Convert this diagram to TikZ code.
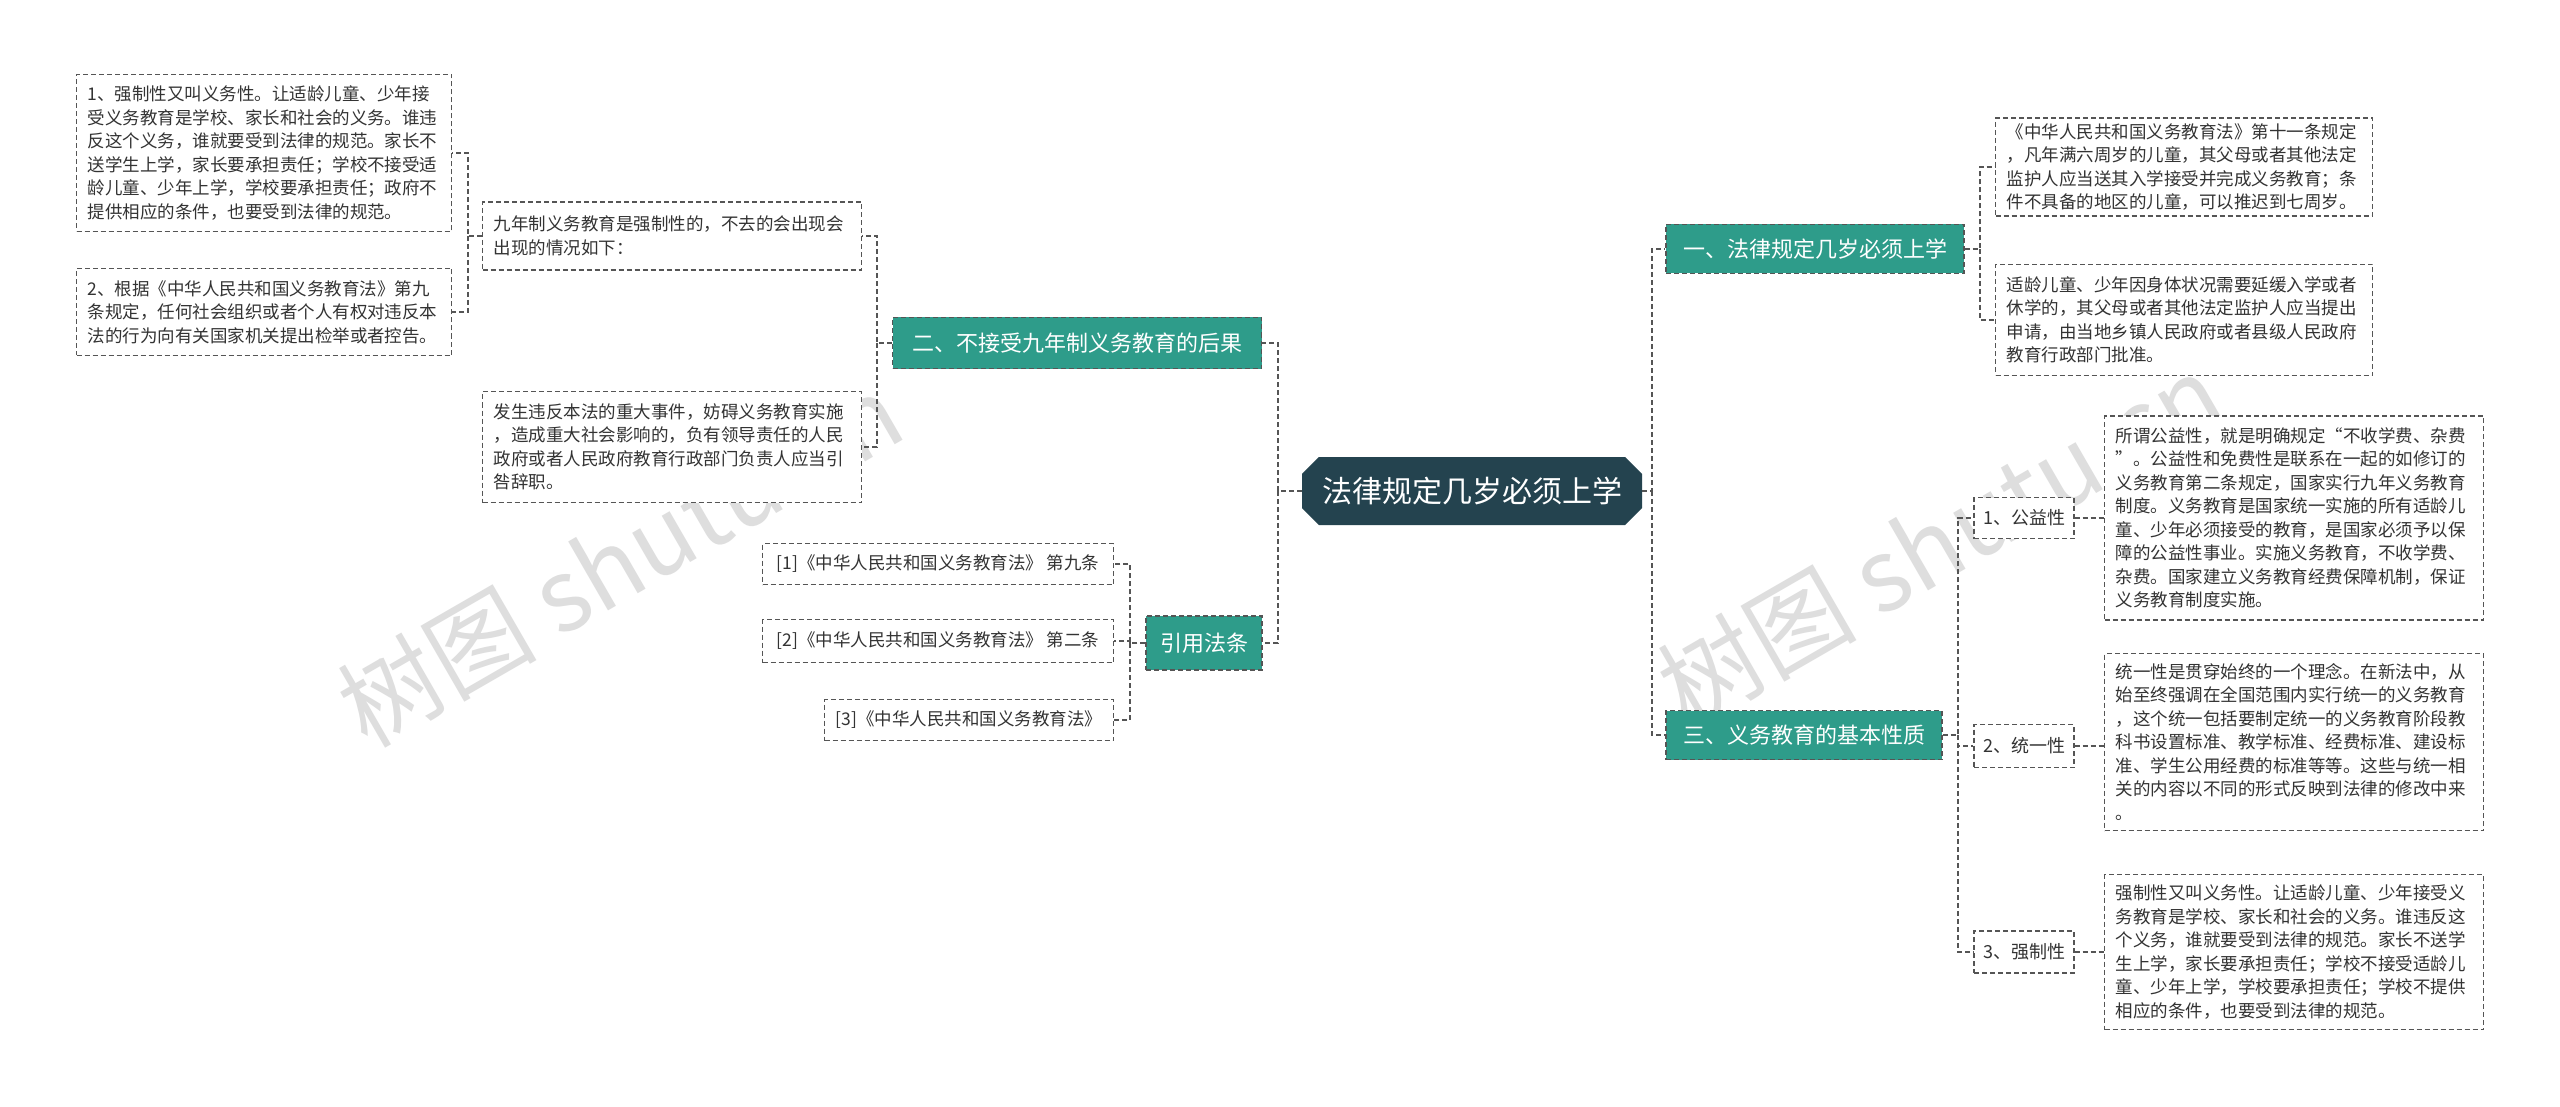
\documentclass[tikz,border=0pt]{standalone}
\usepackage{fontspec}
\newfontfamily\cjk{Noto Sans CJK SC}
\usetikzlibrary{shapes.misc}
\definecolor{teal1}{HTML}{2E9C8A}
\definecolor{rootc}{HTML}{24434F}
\definecolor{linec}{HTML}{555555}
\tikzset{
 leaf/.style={draw=linec, dash pattern=on 5pt off 3pt, line width=1.2pt, fill=white, font=\cjk\fontsize{17.5}{23.5}\selectfont, text=black!80, align=left, inner sep=0pt},
 br/.style={draw=linec, dash pattern=on 5pt off 3pt, line width=1.2pt, fill=teal1, text=white, font=\cjk\fontsize{22}{26}\selectfont, inner sep=0pt},
 sub/.style={draw=linec, dash pattern=on 5pt off 3pt, line width=1.2pt, fill=white, text=black!80, font=\cjk\fontsize{18}{22}\selectfont, inner sep=0pt},
 con/.style={draw=linec, dash pattern=on 5pt off 3pt, line width=1.3pt},
 wm/.style={text=black!13, font=\cjk\fontsize{100}{100}\selectfont, rotate=30}
}
\begin{document}
\begin{tikzpicture}[x=1pt,y=-1pt]
\useasboundingbox[fill=white] (0,0) rectangle (2560,1107);
\node[wm] at (620,560) {树图 shutu.cn};
\node[wm] at (1940,540) {树图 shutu.cn};
% root
\node[chamfered rectangle, chamfered rectangle corners={north east,south east,north west,south west}, chamfered rectangle xsep=14pt, fill=rootc, text=white, font=\cjk\fontsize{30}{32}\selectfont, minimum width=340, minimum height=68, inner sep=0pt] (root) at (1472,491) {法律规定几岁必须上学};
% branches
\node[br, minimum width=298, minimum height=49] (b1) at (1815,249) {一、法律规定几岁必须上学};
\node[br, minimum width=276, minimum height=49] (b3) at (1804,735) {三、义务教育的基本性质};
\node[br, minimum width=369, minimum height=51] (b2) at (1077,343) {二、不接受九年制义务教育的后果};
\node[br, minimum width=116, minimum height=54] (b4) at (1204,643) {引用法条};
% right leaves
\node[leaf, minimum width=377, minimum height=98, text width=355] (l1a) at (2184,167) {《中华人民共和国义务教育法》第十一条规定\\，凡年满六周岁的儿童，其父母或者其他法定\\监护人应当送其入学接受并完成义务教育；条\\件不具备的地区的儿童，可以推迟到七周岁。};
\node[leaf, minimum width=377, minimum height=111, text width=355] (l1b) at (2184,320) {适龄儿童、少年因身体状况需要延缓入学或者\\休学的，其父母或者其他法定监护人应当提出\\申请，由当地乡镇人民政府或者县级人民政府\\教育行政部门批准。};
\node[sub, minimum width=100, minimum height=41] (s1) at (2024,518) {1、公益性};
\node[sub, minimum width=100, minimum height=43] (s2) at (2024,746) {2、统一性};
\node[sub, minimum width=100, minimum height=42] (s3) at (2024,952) {3、强制性};
\node[leaf, minimum width=379, minimum height=204, text width=357] (t1) at (2294,518) {所谓公益性，就是明确规定“不收学费、杂费\\”。公益性和免费性是联系在一起的如修订的\\义务教育第二条规定，国家实行九年义务教育\\制度。义务教育是国家统一实施的所有适龄儿\\童、少年必须接受的教育，是国家必须予以保\\障的公益性事业。实施义务教育，不收学费、\\杂费。国家建立义务教育经费保障机制，保证\\义务教育制度实施。};
\node[leaf, minimum width=379, minimum height=177, text width=357] (t2) at (2294,742) {统一性是贯穿始终的一个理念。在新法中，从\\始至终强调在全国范围内实行统一的义务教育\\，这个统一包括要制定统一的义务教育阶段教\\科书设置标准、教学标准、经费标准、建设标\\准、学生公用经费的标准等等。这些与统一相\\关的内容以不同的形式反映到法律的修改中来\\。};
\node[leaf, minimum width=379, minimum height=155, text width=357] (t3) at (2294,952) {强制性又叫义务性。让适龄儿童、少年接受义\\务教育是学校、家长和社会的义务。谁违反这\\个义务，谁就要受到法律的规范。家长不送学\\生上学，家长要承担责任；学校不接受适龄儿\\童、少年上学，学校要承担责任；学校不提供\\相应的条件，也要受到法律的规范。};
% left leaves
\node[leaf, minimum width=379, minimum height=68, text width=357] (k1) at (672,236) {九年制义务教育是强制性的，不去的会出现会\\出现的情况如下：};
\node[leaf, minimum width=379, minimum height=111, text width=357] (k2) at (672,447) {发生违反本法的重大事件，妨碍义务教育实施\\，造成重大社会影响的，负有领导责任的人民\\政府或者人民政府教育行政部门负责人应当引\\咎辞职。};
\node[leaf, minimum width=375, minimum height=157, text width=353] (m1) at (264,153) {1、强制性又叫义务性。让适龄儿童、少年接\\受义务教育是学校、家长和社会的义务。谁违\\反这个义务，谁就要受到法律的规范。家长不\\送学生上学，家长要承担责任；学校不接受适\\龄儿童、少年上学，学校要承担责任；政府不\\提供相应的条件，也要受到法律的规范。};
\node[leaf, minimum width=375, minimum height=87, text width=353] (m2) at (264,312) {2、根据《中华人民共和国义务教育法》第九\\条规定，任何社会组织或者个人有权对违反本\\法的行为向有关国家机关提出检举或者控告。};
% cited
\node[leaf, minimum width=351, minimum height=41, align=center] (c1) at (938,564) {[1]《中华人民共和国义务教育法》 第九条};
\node[leaf, minimum width=351, minimum height=43, align=center] (c2) at (938,641) {[2]《中华人民共和国义务教育法》 第二条};
\node[leaf, minimum width=289, minimum height=41, align=center] (c3) at (969,720) {[3]《中华人民共和国义务教育法》};
% connectors
\draw[con] (root.east) -- (1652,491) |- (b1.west);
\draw[con] (1652,491) |- (b3.west);
\draw[con] (root.west) -- (1278,491) |- (b2.east);
\draw[con] (1278,491) |- (b4.east);
\draw[con] (b1.east) -- (1980,249) |- (l1a.west);
\draw[con] (1980,249) |- (l1b.west);
\draw[con] (b3.east) -- (1958,735) |- (s1.west);
\draw[con] (1958,735) |- (s2.west);
\draw[con] (1958,735) |- (s3.west);
\draw[con] (s1.east) -- (t1.west);
\draw[con] (s2.east) -- (s2.east -| t2.west);
\draw[con] (s3.east) -- (t3.west);
\draw[con] (b2.west) -- (877,343) |- (k1.east);
\draw[con] (877,343) |- (k2.east);
\draw[con] (k1.west) -- (468,236) |- (m1.east);
\draw[con] (468,236) |- (m2.east);
\draw[con] (b4.west) -- (1130,643) |- (c1.east);
\draw[con] (1130,643) |- (c2.east);
\draw[con] (1130,643) |- (c3.east);
\end{tikzpicture}
\end{document}
